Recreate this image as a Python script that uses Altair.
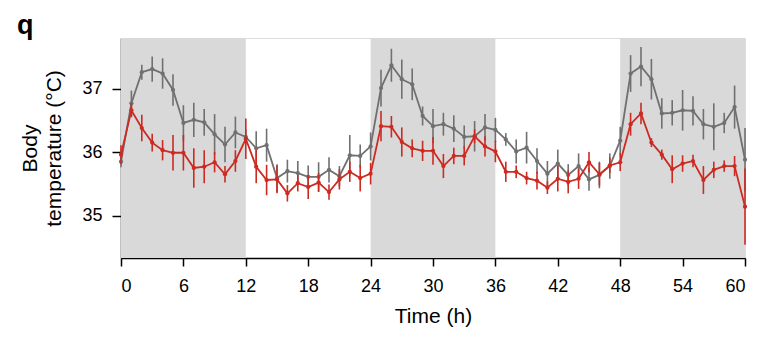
import altair as alt
import pandas as pd

hours = list(range(61))

gray_mean = [35.85, 36.77, 37.26, 37.31, 37.24, 36.98, 36.46, 36.51, 36.47, 36.28,
             36.12, 36.31, 36.24, 36.06, 36.11, 35.59, 35.70, 35.67, 35.61, 35.61,
             35.72, 35.62, 35.95, 35.94, 36.09, 37.01, 37.37, 37.15, 37.07, 36.57,
             36.41, 36.44, 36.37, 36.24, 36.25, 36.39, 36.35, 36.20, 36.01, 36.07,
             35.86, 35.66, 35.82, 35.64, 35.78, 35.57, 35.64, 35.78, 36.18, 37.24,
             37.35, 37.15, 36.61, 36.62, 36.66, 36.65, 36.44, 36.40, 36.46, 36.71,
             35.88]
gray_err = [0.09, 0.20, 0.12, 0.20, 0.24, 0.25, 0.28, 0.27, 0.21, 0.32,
            0.28, 0.25, 0.12, 0.27, 0.26, 0.22, 0.18, 0.19, 0.18, 0.23,
            0.20, 0.16, 0.32, 0.18, 0.22, 0.29, 0.26, 0.31, 0.25, 0.15,
            0.27, 0.18, 0.21, 0.18, 0.24, 0.21, 0.19, 0.10, 0.19, 0.25,
            0.20, 0.20, 0.22, 0.17, 0.20, 0.18, 0.21, 0.20, 0.22, 0.29,
            0.31, 0.32, 0.24, 0.20, 0.32, 0.23, 0.24, 0.37, 0.16, 0.34,
            0.50]
red_mean = [35.96, 36.66, 36.38, 36.15, 36.03, 35.99, 35.99, 35.75, 35.77, 35.84,
            35.65, 35.86, 36.21, 35.77, 35.56, 35.57, 35.35, 35.51, 35.45, 35.52,
            35.37, 35.57, 35.69, 35.59, 35.66, 36.41, 36.40, 36.16, 36.06, 36.02,
            36.02, 35.78, 35.94, 35.94, 36.25, 36.09, 36.01, 35.69, 35.69, 35.59,
            35.55, 35.44, 35.58, 35.53, 35.58, 35.84, 35.65, 35.79, 35.84, 36.44,
            36.61, 36.15, 35.96, 35.73, 35.82, 35.86, 35.56, 35.72, 35.78, 35.78,
            35.14]
red_err = [0.15, 0.11, 0.21, 0.14, 0.16, 0.28, 0.28, 0.31, 0.26, 0.16,
           0.13, 0.17, 0.32, 0.26, 0.24, 0.22, 0.13, 0.13, 0.19, 0.15,
           0.12, 0.16, 0.16, 0.21, 0.17, 0.24, 0.17, 0.23, 0.14, 0.16,
           0.22, 0.19, 0.13, 0.15, 0.11, 0.16, 0.17, 0.16, 0.10, 0.10,
           0.14, 0.10, 0.20, 0.18, 0.16, 0.16, 0.18, 0.12, 0.14, 0.18,
           0.17, 0.07, 0.08, 0.22, 0.13, 0.10, 0.22, 0.13, 0.09, 0.16,
           0.60]

band_start = [0, 24, 48]
band_end = [12, 36, 60]
x_ticks = [0, 6, 12, 18, 24, 30, 36, 42, 48, 54, 60]
y_ticks = [35, 36, 37]

FONT = "Liberation Sans"
GRAY = "#707070"
RED = "#cd2a22"
BAND = "#d9d9d9"

rows = []
for name, m, e in (("gray", gray_mean, gray_err), ("red", red_mean, red_err)):
    for h, mv, ev in zip(hours, m, e):
        rows.append({"hour": h, "series": name, "mean": mv, "lo": mv - ev, "hi": mv + ev})
df = pd.DataFrame(rows)
bands = pd.DataFrame({"start": band_start, "end": band_end})

xscale = alt.Scale(domain=[0, 60], nice=False, zero=False)
yscale = alt.Scale(domain=[34.33, 37.8], nice=False, zero=False)

xaxis = alt.Axis(values=x_ticks, title="Time (h)", grid=False,
                 labelFontSize=18, labelFont=FONT, labelColor="black",
                 titleFontSize=21, titleFont=FONT, titleFontWeight="normal",
                 titleColor="black", titlePadding=10,
                 tickSize=8, tickWidth=1.5, tickColor="black",
                 domainColor="black", domainWidth=1.5, labelPadding=11)
yaxis = alt.Axis(values=y_ticks, title=["Body", "temperature (°C)"], grid=False,
                 labelFontSize=18, labelFont=FONT, labelColor="black",
                 titleFontSize=21, titleFont=FONT, titleFontWeight="normal",
                 titleColor="black", titlePadding=17, titleLineHeight=24,
                 tickSize=9, tickWidth=1.5, tickColor="black",
                 domainColor="black", domainWidth=1.5, labelPadding=10)

band_layer = alt.Chart(bands).mark_rect(color=BAND).encode(
    x=alt.X("start:Q", scale=xscale, axis=xaxis),
    x2="end:Q",
)

layers = [band_layer]
for name, col in (("gray", GRAY), ("red", RED)):
    base = alt.Chart(df).transform_filter(alt.datum.series == name)
    err = base.mark_rule(color=col, strokeWidth=1.6).encode(
        x=alt.X("hour:Q", scale=xscale, axis=xaxis),
        y=alt.Y("lo:Q", scale=yscale, axis=yaxis),
        y2="hi:Q",
    )
    line = base.mark_line(color=col, strokeWidth=1.8).encode(
        x=alt.X("hour:Q", scale=xscale, axis=xaxis),
        y=alt.Y("mean:Q", scale=yscale, axis=yaxis),
    )
    pts = base.mark_point(color=col, filled=True, size=18, opacity=1).encode(
        x=alt.X("hour:Q", scale=xscale, axis=xaxis),
        y=alt.Y("mean:Q", scale=yscale, axis=yaxis),
    )
    layers += [err, line, pts]

label = alt.Chart(pd.DataFrame({"t": ["q"]})).mark_text(
    text="q", fontSize=27, fontWeight="bold", font=FONT, align="left",
    baseline="alphabetic", color="black"
).encode(x=alt.value(-104), y=alt.value(-4))
layers.append(label)

chart = alt.layer(*layers).properties(
    width=624, height=220,
    padding={"left": 121, "top": 38, "right": 17, "bottom": 96},
    autosize=alt.AutoSizeParams(type="none"),
).configure_view(stroke=None).configure(background="white")

chart.save("out.html", embed_options={"renderer": "svg", "actions": False})
